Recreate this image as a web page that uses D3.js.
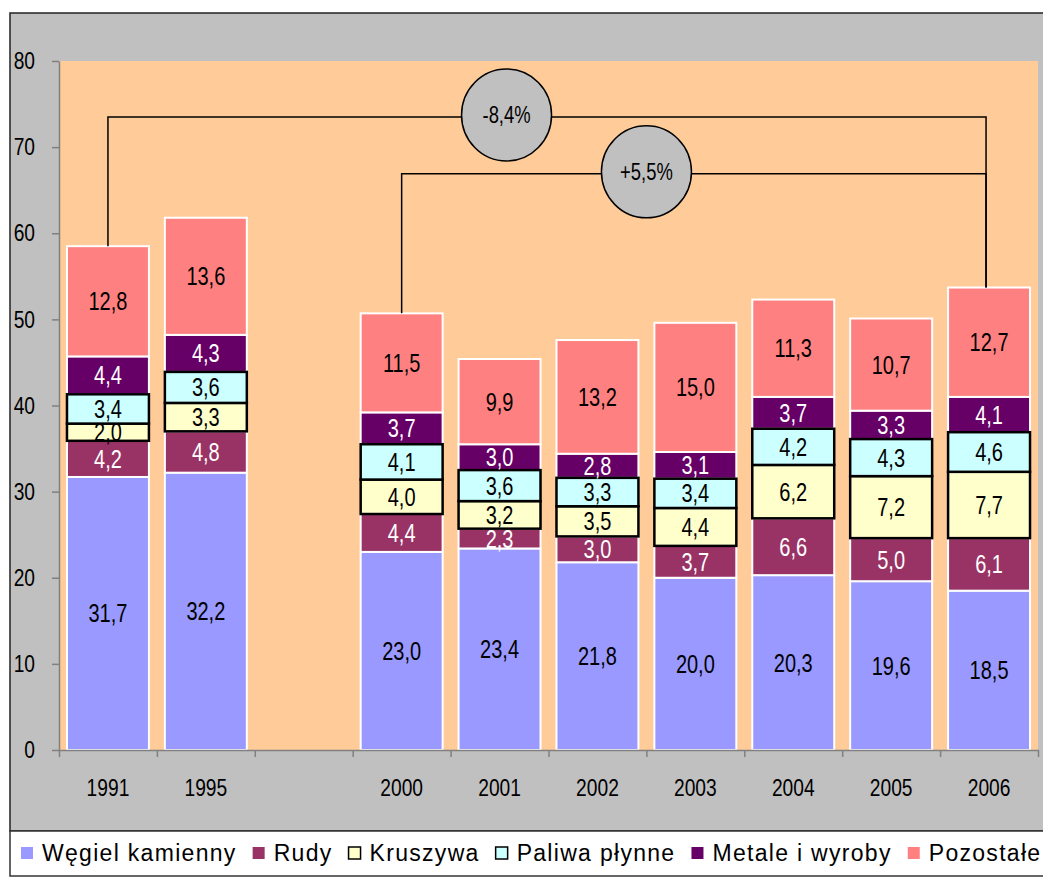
<!DOCTYPE html>
<html>
<head>
<meta charset="utf-8">
<script src="https://cdn.jsdelivr.net/npm/d3@7"></script>
<style>
  body { margin: 0; background: #fff; }
  svg { display: block; }
</style>
</head>
<body>
<div id="chart"></div>
<script>
// data
const years = ["1991", "1995", "2000", "2001", "2002", "2003", "2004", "2005", "2006"];
const slots = ["1991", "1995", "", "2000", "2001", "2002", "2003", "2004", "2005", "2006"];
const seriesNames = ["Węgiel kamienny", "Rudy", "Kruszywa", "Paliwa płynne", "Metale i wyroby", "Pozostałe"];
const wegiel = [31.7, 32.2, 23.0, 23.4, 21.8, 20.0, 20.3, 19.6, 18.5];
const rudy = [4.2, 4.8, 4.4, 2.3, 3.0, 3.7, 6.6, 5.0, 6.1];
const kruszywa = [2.0, 3.3, 4.0, 3.2, 3.5, 4.4, 6.2, 7.2, 7.7];
const paliwa = [3.4, 3.6, 4.1, 3.6, 3.3, 3.4, 4.2, 4.3, 4.6];
const metale = [4.4, 4.3, 3.7, 3.0, 2.8, 3.1, 3.7, 3.3, 4.1];
const pozostale = [12.8, 13.6, 11.5, 9.9, 13.2, 15.0, 11.3, 10.7, 12.7];
const yTicks = [0, 10, 20, 30, 40, 50, 60, 70, 80];
const changes = [
  { label: "-8,4%", from: "1991", to: "2006", level: 73.5 },
  { label: "+5,5%", from: "2000", to: "2006", level: 66.9 }
];

const colors = ["#9999FF", "#993366", "#FFFFCC", "#CCFFFF", "#660066", "#FF8080"];
const labelColors = ["#000", "#fff", "#000", "#000", "#fff", "#000"];
const edgeColors = ["#fff", "#fff", "#000", "#000", "#fff", "#fff"];

const values = [wegiel, rudy, kruszywa, paliwa, metale, pozostale];
const rows = years.map((yr, i) => {
  const r = { year: yr };
  seriesNames.forEach((s, k) => r[s] = values[k][i]);
  return r;
});

const width = 1043, height = 877;
const margin = { top: 61, right: 5, bottom: 127, left: 59 };
const font = "'Liberation Sans', Arial, sans-serif";
const fmt = v => d3.format(".1f")(v).replace(".", ",");

// no narrow face installed: squeeze Liberation Sans glyphs horizontally
function narrow(sel) {
  sel.each(function() {
    const w = this.getComputedTextLength();
    if (w > 0) d3.select(this).attr("textLength", w * 0.8).attr("lengthAdjust", "spacingAndGlyphs");
  });
}

const svg = d3.select("#chart").append("svg")
  .attr("width", width)
  .attr("height", height);

// chart area + legend frame
svg.append("rect").attr("x", 10).attr("y", 13).attr("width", 1040).attr("height", 818)
  .attr("fill", "#C0C0C0").attr("stroke", "#222").attr("stroke-width", 1.5);
svg.append("rect").attr("x", 10).attr("y", 831).attr("width", 1040).attr("height", 45)
  .attr("fill", "#fff").attr("stroke", "#333").attr("stroke-width", 1.5);

const x = d3.scaleBand()
  .domain(slots)
  .range([margin.left, width - margin.right])
  .paddingInner(0.163)
  .paddingOuter(0.0815);

const y = d3.scaleLinear()
  .domain([0, 80])
  .range([height - margin.bottom, margin.top]);

// plot area
svg.append("rect")
  .attr("x", margin.left).attr("y", margin.top)
  .attr("width", x.step() * slots.length).attr("height", y(0) - y(80))
  .attr("fill", "#FFCC99");

const stack = d3.stack().keys(seriesNames)(rows);

const order = [0, 1, 4, 5, 2, 3]; // white-edged first, black-edged on top
order.forEach(k => {
  svg.append("g")
    .selectAll("rect")
    .data(stack[k])
    .join("rect")
    .attr("x", d => x(d.data.year))
    .attr("y", d => y(d[1]))
    .attr("width", x.bandwidth())
    .attr("height", d => y(d[0]) - y(d[1]))
    .attr("fill", colors[k])
    .attr("stroke", edgeColors[k])
    .attr("stroke-width", edgeColors[k] == "#000" ? 2.5 : 2);
});

// segment labels
stack.forEach((layer, k) => {
  svg.append("g")
    .selectAll("text")
    .data(layer)
    .join("text")
    .attr("x", d => x(d.data.year) + x.bandwidth() / 2)
    .attr("y", d => (y(d[0]) + y(d[1])) / 2)
    .attr("dy", "0.36em")
    .attr("text-anchor", "middle")
    .attr("font-family", font)
    .attr("font-size", 25)
    .attr("fill", labelColors[k])
    .text(d => fmt(d[1] - d[0]))
    .call(narrow);
});

// y axis
svg.append("g")
  .attr("transform", `translate(${margin.left},0)`)
  .call(d3.axisLeft(y).tickValues(yTicks).tickSize(7).tickPadding(17).tickSizeOuter(0))
  .call(g => g.select(".domain").attr("stroke", "#808080").attr("stroke-width", 1.5))
  .call(g => g.selectAll(".tick line").attr("stroke", "#808080").attr("stroke-width", 1.5))
  .call(g => g.selectAll("text").attr("font-family", font).attr("font-size", 24).attr("fill", "#000").call(narrow));

// x axis: boundary ticks + centred labels
const xb = d3.scaleLinear().domain([0, slots.length]).range([margin.left, margin.left + x.step() * slots.length]);
svg.append("g")
  .attr("transform", `translate(0,${y(0)})`)
  .call(d3.axisBottom(xb).tickValues(d3.range(slots.length + 1)).tickFormat("").tickSize(7).tickSizeOuter(0))
  .call(g => g.select(".domain").attr("stroke", "#808080").attr("stroke-width", 1.5))
  .call(g => g.selectAll(".tick line").attr("stroke", "#808080").attr("stroke-width", 1.5));

svg.append("g")
  .attr("transform", `translate(0,${y(0)})`)
  .call(d3.axisBottom(x).tickSize(0).tickPadding(29))
  .call(g => g.select(".domain").remove())
  .call(g => g.selectAll("text").attr("font-family", font).attr("font-size", 24).attr("fill", "#000").call(narrow));

// change brackets
const total = yr => d3.sum(values, v => v[years.indexOf(yr)]);
const cx = yr => x(yr) + x.bandwidth() / 2;
const bubbleX = [cx("2001") + 7, cx("2002") + 49];
changes.forEach((c, i) => {
  const x1 = cx(c.from), x2 = cx(c.to) - 3, ly = y(c.level);
  svg.append("path")
    .attr("d", `M${x1},${y(total(c.from))}V${ly}H${x2}V${y(total(c.to))}`)
    .attr("fill", "none").attr("stroke", "#000").attr("stroke-width", 1.5);
  svg.append("ellipse")
    .attr("cx", bubbleX[i]).attr("cy", ly - 2)
    .attr("rx", 45).attr("ry", 46)
    .attr("fill", "#C0C0C0").attr("stroke", "#000").attr("stroke-width", 1.5);
  svg.append("text")
    .attr("x", bubbleX[i]).attr("y", ly - 2).attr("dy", "0.36em")
    .attr("text-anchor", "middle")
    .attr("font-family", font).attr("font-size", 23)
    .text(c.label)
    .call(narrow);
});

// legend
const legend = svg.append("g").attr("transform", "translate(21,853)");
let lx = 0;
seriesNames.forEach((s, k) => {
  legend.append("rect")
    .attr("x", lx).attr("y", -6).attr("width", 12).attr("height", 12)
    .attr("fill", colors[k])
    .attr("stroke", edgeColors[k] == "#000" ? "#000" : "none").attr("stroke-width", 1.5);
  const t = legend.append("text")
    .attr("x", lx + 21).attr("dy", "0.36em")
    .attr("font-family", font)
    .attr("font-size", 23)
    .attr("letter-spacing", 1.3)
    .text(s);
  lx += 21 + t.node().getComputedTextLength() + 16;
});
</script>
</body>
</html>
